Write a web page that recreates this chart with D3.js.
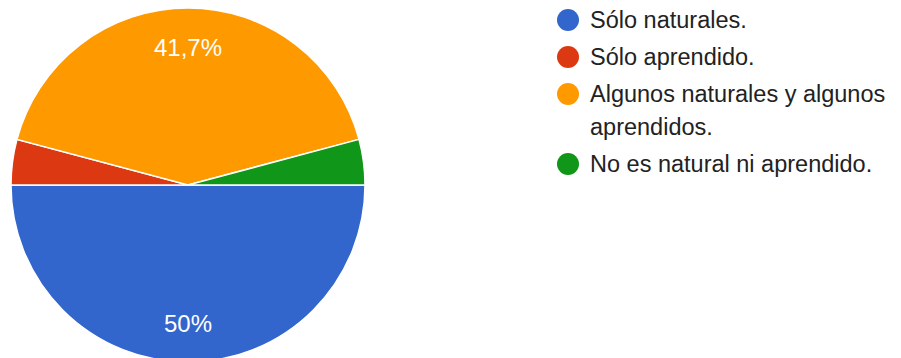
<!DOCTYPE html>
<html>
<head>
<meta charset="utf-8">
<script src="https://cdn.jsdelivr.net/npm/d3@7"></script>
<style>
  html, body { margin: 0; padding: 0; background: #fff; overflow: hidden; }
  svg { display: block; }
</style>
</head>
<body>
<svg id="chart" width="901" height="358"></svg>
<script>
// Survey answers (share of responses, %)
const categories = [
  "Sólo naturales.",
  "Sólo aprendido.",
  "Algunos naturales y algunos aprendidos.",
  "No es natural ni aprendido."
];
const values = [50, 4.15, 41.7, 4.15];
const valueLabels = ["50%", "", "41,7%", ""];
const colors = ["#3366cc", "#dc3912", "#ff9900", "#109618"];

const svg = d3.select("#chart");
const font = "Arial, 'Liberation Sans', sans-serif";

const cx = 188, cy = 185, r = 177;

// slices run clockwise starting at 3 o'clock
const pie = d3.pie().sort(null).value(d => d)
  .startAngle(Math.PI / 2).endAngle(Math.PI / 2 + 2 * Math.PI);
const arcs = pie(values);
const arc = d3.arc().innerRadius(0).outerRadius(r);
const labelArc = d3.arc().innerRadius(r * 0.78).outerRadius(r * 0.78);

const g = svg.append("g").attr("transform", `translate(${cx},${cy})`);

g.selectAll("path.slice")
  .data(arcs)
  .join("path")
  .attr("class", "slice")
  .attr("d", arc)
  .attr("fill", (d, i) => colors[i])
  .attr("stroke", "#fff")
  .attr("stroke-width", 1.5);

g.selectAll("text.pct")
  .data(arcs)
  .join("text")
  .attr("class", "pct")
  .attr("transform", d => `translate(${labelArc.centroid(d)})`)
  .attr("text-anchor", "middle")
  .attr("dy", "0.36em")
  .attr("font-family", font)
  .attr("font-size", 24)
  .attr("fill", "#fff")
  .text((d, i) => valueLabels[i]);

// legend with wrapped entries
const legendX = 568, textX = 590, maxWidth = 306;
const lineH = 33, gap = 4;
let y = 20;
const legend = svg.append("g");

categories.forEach((label, i) => {
  legend.append("circle")
    .attr("cx", legendX).attr("cy", y).attr("r", 11)
    .attr("fill", colors[i]);

  const text = legend.append("text")
    .attr("x", textX)
    .attr("y", y + 8)
    .attr("font-family", font)
    .attr("font-size", 23.5)
    .attr("fill", "#222");

  const words = label.split(" ");
  let line = [];
  let tspan = text.append("tspan").attr("x", textX).attr("dy", 0);
  let lines = 1;
  words.forEach(w => {
    line.push(w);
    tspan.text(line.join(" "));
    if (tspan.node().getComputedTextLength() > maxWidth && line.length > 1) {
      line.pop();
      tspan.text(line.join(" "));
      line = [w];
      tspan = text.append("tspan").attr("x", textX).attr("dy", lineH).text(w);
      lines++;
    }
  });
  y += lines * lineH + gap;
});
</script>
</body>
</html>
